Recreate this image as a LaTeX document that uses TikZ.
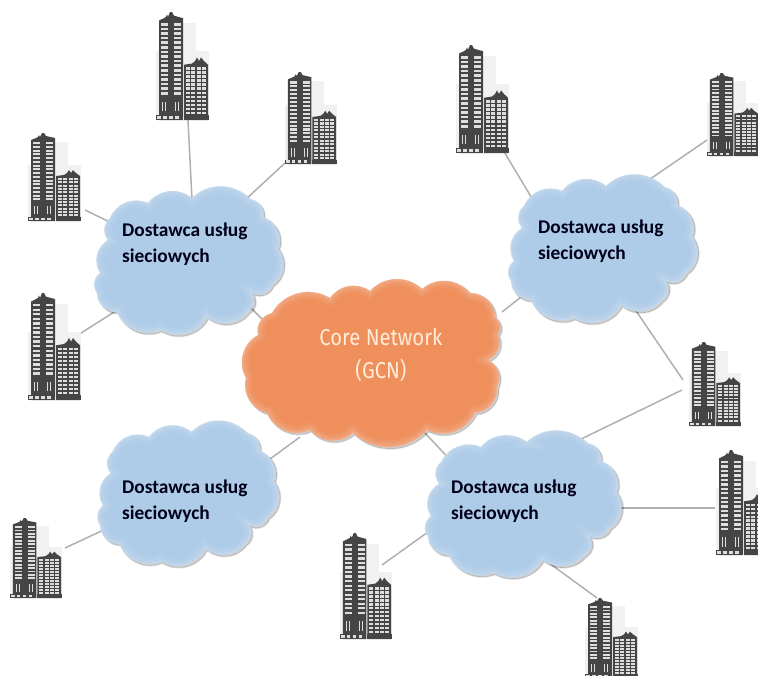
\documentclass[tikz,border=0pt]{standalone}
\usepackage{fontspec}
\setmainfont{Carlito}
\newfontfamily\corefont[FakeStretch=.88]{Fira Sans}
\definecolor{bluefill}{HTML}{AECBE8}
\definecolor{corefill}{HTML}{EE8F5C}
\definecolor{towerdark}{HTML}{454545}
\definecolor{winlight}{HTML}{DEDEDE}
\definecolor{palegrey}{HTML}{F1F1F1}
\definecolor{linegrey}{HTML}{B0B0B0}
\tikzset{
  linkline/.style={draw=linegrey,line width=1.5pt},
  cloudlabel/.style={font=\bfseries\fontsize{19.4}{26}\selectfont,text=black!90!blue,align=left,anchor=west,inner sep=0pt},
  corelabel/.style={font=\corefont\fontsize{23}{33}\selectfont,text=orange!15!white,align=center,inner sep=0pt},
  buildingbox/.style={inner sep=0pt,minimum width=53pt,minimum height=88pt},
  lobe/.style={bend left=46}
}
% valleys of a bumpy outline, clockwise on screen
\def\bluecloud{(192,198) to[lobe] (250,199) to[lobe] (263,217) to[lobe] (278,248) to[lobe] (272,285) to[lobe] (252,293) to[lobe] (248,312) to[lobe] (207,317) to[lobe] (160,330) to[lobe] (117,312) to[lobe] (97,293) to[lobe] (100,273) to[lobe] (108,240) to[lobe] (110,218) to[lobe] (148,203) to[lobe] cycle}
\def\corecloud{(272,313) to[lobe] (330,298) to[lobe] (370,291) to[lobe] (422,289) to[lobe] (470,293) to[lobe] (495,317) to[lobe] (498,335) to[lobe] (488,360) to[lobe] (497,387) to[lobe] (475,413) to[lobe] (427,430) to[lobe] (353,433) to[lobe] (310,430) to[lobe] (267,413) to[lobe] (246,378) to[lobe] (258,335) to[lobe] cycle}
% #1 outline, #2 fill
\newcommand\softcloud[2]{%
  \begin{scope}[shift={(1.8,1.8)}]
    \fill[black,opacity=.18] #1;
    \draw[black,opacity=.12,line width=1.4pt] #1;
  \end{scope}
  \fill[#2] #1;
  \begin{scope}
    \clip #1;
    \draw[white,opacity=.07,line width=14pt] #1;
    \draw[white,opacity=.09,line width=8pt] #1;
    \draw[white,opacity=.12,line width=3pt] #1;
  \end{scope}
}
% #1 name, #2 left, #3 top, #4 width, #5 height
\newcommand\building[5]{%
  \begin{scope}[shift={(#2,#3)},xscale=#4/53,yscale=#5/88]
    \node[buildingbox,anchor=north west] (#1) at (0,0) {};
    \fill[palegrey] (27,9) rectangle (40,35);
    \fill[palegrey] (0,32) rectangle (53,85);
    \fill[towerdark] (3,88) -- (3,7) -- (8,5) -- (10,4) -- (11,2) -- (12,4) -- (14,0) -- (16,0) -- (18,3) -- (27,5) -- (27,88) -- cycle;
    \fill[towerdark] (0,84) rectangle (27,88);
    \foreach \r in {0,...,15}{
      \fill[winlight] (5,9+\r*3.75) rectangle (12,11+\r*3.75);
      \fill[winlight] (18,9+\r*3.75) rectangle (25,11+\r*3.75);
    }
    \foreach \c in {6,9,19,22}{ \fill[winlight] (\c,73) rectangle (\c+1.2,81); }
    \foreach \c in {1,7,13,19}{ \fill[winlight] (\c,84.6) rectangle (\c+3.6,87); }
    \fill[towerdark] (28,88) -- (28,43) -- (36,42) -- (39,40) -- (41,37) -- (43,40) -- (45,37) -- (48,40) -- (52,43) -- (52,88) -- cycle;
    \fill[towerdark] (28,84) rectangle (53,88);
    \foreach \r in {0,...,11}{
      \foreach \c in {0,1,2,3}{
        \fill[winlight] (30+\c*5.4,45+\r*3.3) rectangle (34+\c*5.4,47+\r*3.3);
      }
    }
  \end{scope}
}
\begin{document}
\begin{tikzpicture}[x=1pt,y=-1pt]
  \useasboundingbox (0,0) rectangle (758,675);
  \clip (0,0) rectangle (758,675);
  \fill[white] (0,0) rectangle (758,675);
  % connector ends
  \coordinate (a1) at (188,120);  \coordinate (a1c) at (192,200);
  \coordinate (a2) at (285,163);  \coordinate (a2c) at (245,200);
  \coordinate (a3) at (85,210);   \coordinate (a3c) at (120,227);
  \coordinate (a4) at (78,335);   \coordinate (a4c) at (122,307);
  \coordinate (a5) at (266,323);  \coordinate (a5c) at (245,302);
  \coordinate (b1) at (503,150);  \coordinate (b1c) at (536,205);
  \coordinate (b2) at (707,140);  \coordinate (b2c) at (640,186);
  \coordinate (b3) at (502,312);  \coordinate (b3c) at (530,290);
  \coordinate (b4) at (683,380);  \coordinate (b4c) at (630,302);
  \coordinate (d1) at (682,390);  \coordinate (d1c) at (575,442);
  \coordinate (d2) at (715,508);  \coordinate (d2c) at (600,508);
  \coordinate (d3) at (597,598);  \coordinate (d3c) at (545,560);
  \coordinate (d4) at (382,565);  \coordinate (d4c) at (435,527);
  \coordinate (d5) at (425,433);  \coordinate (d5c) at (455,465);
  \coordinate (c1) at (300,437);  \coordinate (c1c) at (255,470);
  \coordinate (c2) at (65,548);   \coordinate (c2c) at (110,527);
  \foreach \p/\q in {a1/a1c,a2/a2c,a3/a3c,a4/a4c,a5/a5c,b1/b1c,b2/b2c,b3/b3c,b4/b4c,d1/d1c,d2/d2c,d3/d3c,d4/d4c,d5/d5c,c1/c1c,c2/c2c}
    \draw[linkline] (\p) -- (\q);
  % clouds
  \begin{scope}\softcloud{\bluecloud}{bluefill}\end{scope}
  \begin{scope}[shift={(414,-12)}]\softcloud{\bluecloud}{bluefill}\end{scope}
  \begin{scope}[shift={(7,238)},xscale=.96,yscale=.98]\softcloud{\bluecloud}{bluefill}\end{scope}
  \begin{scope}[shift={(327,246)},xscale=1.04,yscale=.99]\softcloud{\bluecloud}{bluefill}\end{scope}
  \softcloud{\corecloud}{corefill}
  % labels
  \node[cloudlabel] (tA) at (122,244) {Dostawca usług\\sieciowych};
  \node[cloudlabel] (tB) at (538,241) {Dostawca usług\\sieciowych};
  \node[cloudlabel] (tC) at (122,501) {Dostawca usług\\sieciowych};
  \node[cloudlabel] (tD) at (451,501) {Dostawca usług\\sieciowych};
  \node[corelabel] (tCore) at (381,355) {Core Network\\(GCN)};
  % buildings
  \building{h1}{28}{133}{53}{88}
  \building{h2}{156}{12}{53}{108}
  \building{h3}{285}{72}{52}{92}
  \building{h4}{28}{293}{53}{107}
  \building{h5}{456}{45}{53}{108}
  \building{h6}{707}{73}{52}{83}
  \building{h7}{689}{342}{52}{84}
  \building{h8}{716}{450}{53}{105}
  \building{h9}{585}{598}{53}{80}
  \building{h10}{340}{533}{52}{106}
  \building{h11}{10}{518}{52}{80}
\end{tikzpicture}
\end{document}
